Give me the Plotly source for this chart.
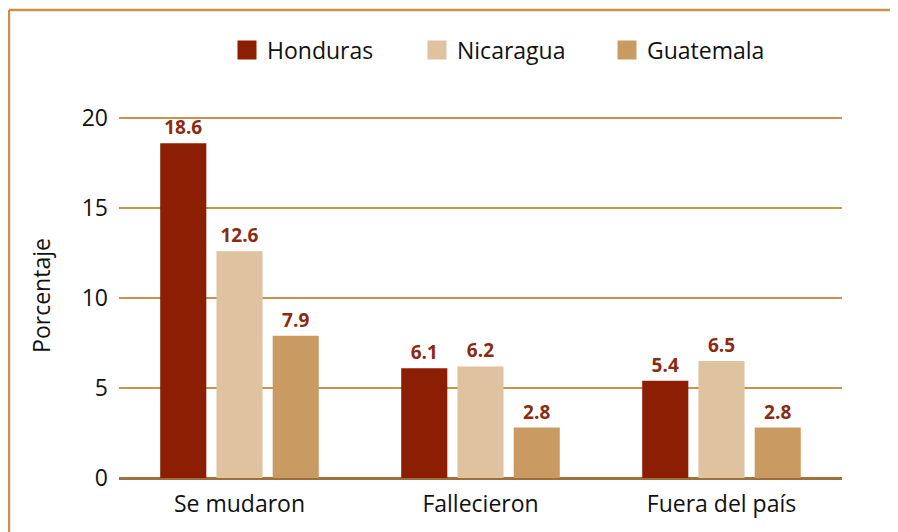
import plotly.graph_objects as go

categories = ["Se mudaron", "Fallecieron", "Fuera del país"]
honduras = [18.6, 6.1, 5.4]
nicaragua = [12.6, 6.2, 6.5]
guatemala = [7.9, 2.8, 2.8]
series_names = ["Honduras", "Nicaragua", "Guatemala"]
colors = ["#8B1E03", "#DFC29F", "#C99B63"]
y_ticks = [0, 5, 10, 15, 20]

FONT = "Open Sans"
W, H = 890, 524
L, R, T, B = 111, 56, 105, 54
PW, PH = W - L - R, H - T - B
Y_TOP = 20 + 5 / 18

fig = go.Figure()
for name, vals, col in zip(series_names, [honduras, nicaragua, guatemala], colors):
    fig.add_trace(go.Bar(
        x=categories, y=vals, name=name, marker_color=col, marker_line_width=0,
        text=[f"{v:.1f}" for v in vals], textposition="outside",
        textfont=dict(family=FONT, size=19, color="#8B2A0F", weight="bold"),
        cliponaxis=False, showlegend=False,
    ))
    fig.add_trace(go.Scatter(
        x=[None], y=[None], mode="markers", name=name,
        marker=dict(symbol="square", size=16, color=col, line=dict(color=col, width=3)),
        showlegend=True,
    ))

fig.update_layout(
    width=W, height=H,
    margin=dict(l=L, r=R, t=T, b=B),
    paper_bgcolor="white", plot_bgcolor="white",
    barmode="group", bargap=0.30, bargroupgap=0.18,
    font=dict(family=FONT, size=23, color="#111111"),
    legend=dict(orientation="h", x=(219 - L) / PW, xanchor="left",
                y=(PH + T - 42) / PH, yanchor="middle",
                font=dict(size=23, color="#111111"), itemwidth=30,
                entrywidth=145, entrywidthmode="pixels",
                traceorder="normal"),
    xaxis=dict(showline=False, ticks="", tickfont=dict(size=23), ticklabelstandoff=10),
    yaxis=dict(range=[0, Y_TOP], tickvals=y_ticks, showgrid=True, gridcolor="#C8914D",
               gridwidth=2, zeroline=True, zerolinecolor="#A0703C", zerolinewidth=2.5,
               ticks="", tickfont=dict(size=23), ticklabelstandoff=10,
               title=dict(text="Porcentaje", font=dict(size=23), standoff=24)),
    shapes=[
        dict(type="line", xref="paper", yref="paper", x0=(1 - L) / PW, x1=(1 - L) / PW,
             y0=-0.3, y1=(PH + T - 2) / PH, line=dict(color="#C8914D", width=2.5)),
        dict(type="line", xref="paper", yref="paper", x0=(1 - L) / PW, x1=1.2,
             y0=(PH + T - 2) / PH, y1=(PH + T - 2) / PH, line=dict(color="#C8914D", width=2.5)),
    ],
)
fig.write_html("out.html")
